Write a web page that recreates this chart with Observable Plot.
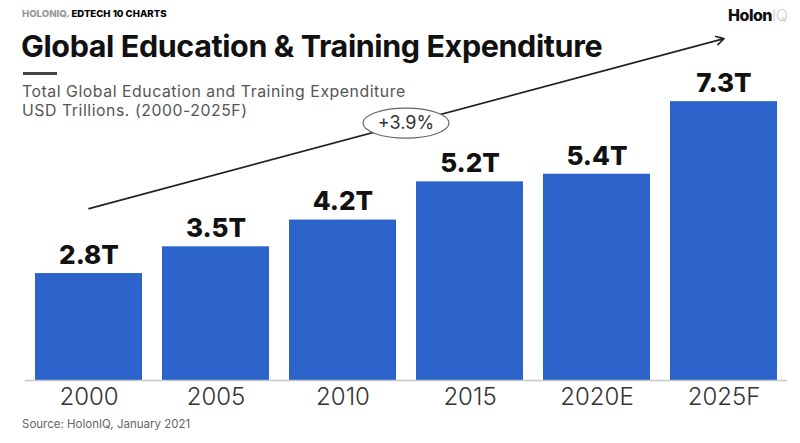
<!DOCTYPE html>
<html>
<head>
<meta charset="utf-8">
<script src="https://cdn.jsdelivr.net/npm/d3@7"></script>
<script src="https://cdn.jsdelivr.net/npm/@observablehq/plot@0.6"></script>
<style>
  body { margin: 0; background: #fff; font-family: Inter, "Open Sans", sans-serif; }
  #wrap { position: relative; width: 800px; height: 443px; overflow: hidden; }
  #chart { position: absolute; left: 0; top: 0; }
  .abs { position: absolute; white-space: nowrap; }
  #kicker { left: 22px; top: 8px; font-size: 9.6px; font-weight: 800; letter-spacing: 0px; }
  #kicker .g { color: #999; }
  #logo { left: 728px; top: 5px; font-size: 16px; font-weight: 800; color: #111; letter-spacing: -0.5px; }
  #logo .iq { color: #ccc; font-weight: 300; }
  #title { left: 21px; top: 27px; font-size: 30.5px; font-weight: 700; color: #111; letter-spacing: -0.4px; }
  #rule { left: 23px; top: 72px; width: 34px; height: 3px; background: #444; }
  #sub { left: 22px; top: 82px; font-size: 15.8px; color: #555; line-height: 19px; font-weight: 400; letter-spacing: 0.55px; }
  #source { left: 22px; top: 417px; font-size: 11.5px; color: #666; }
</style>
</head>
<body>
<div id="wrap">
  <div id="chart"></div>
  <div id="kicker" class="abs"><span class="g">HOLONIQ.</span> EDTECH 10 CHARTS</div>
  <div id="logo" class="abs">Holon<span class="iq">IQ</span></div>
  <div id="title" class="abs">Global Education &amp; Training Expenditure</div>
  <div id="rule" class="abs"></div>
  <div id="sub" class="abs">Total Global Education and Training Expenditure<br>USD Trillions. (2000-2025F)</div>
  <div id="source" class="abs">Source: HolonIQ, January 2021</div>
</div>
<script>
const years = ["2000", "2005", "2010", "2015", "2020E", "2025F"];
const values = [2.8, 3.5, 4.2, 5.2, 5.4, 7.3];
const labels = ["2.8T", "3.5T", "4.2T", "5.2T", "5.4T", "7.3T"];
const cagrLabel = "+3.9%";
// trend arrow endpoints (category, value in USD T)
const arrowFrom = ["2000", 4.5];
const arrowTo = ["2025F", 8.95];

const data = years.map((y, i) => ({year: y, value: values[i], label: labels[i]}));

const chart = Plot.plot({
  width: 800,
  height: 443,
  marginTop: 100,
  marginBottom: 63,
  marginLeft: 25,
  marginRight: 13,
  style: {fontFamily: "Inter, 'Open Sans', sans-serif", background: "transparent", overflow: "visible"},
  x: {domain: years, paddingInner: 0.16, paddingOuter: 0.08, label: null},
  y: {domain: [0, 7.33], axis: null},
  marks: [
    Plot.barY(data, {x: "year", y: "value", fill: "#2b63cb"}),
    Plot.ruleY([0], {stroke: "#c8c8c8", strokeWidth: 1.5}),
    Plot.text(data, {x: "year", y: "value", text: "label", dy: -18, fontSize: 26, fontWeight: 800, fill: "#111", letterSpacing: -0.5}),
    Plot.arrow([{x1: arrowFrom[0], y1: arrowFrom[1], x2: arrowTo[0], y2: arrowTo[1]}], {
      x1: "x1", y1: "y1", x2: "x2", y2: "y2", stroke: "#222", strokeWidth: 1.6, headLength: 8, clip: false
    }),
    Plot.axisX({tickSize: 0, tickPadding: 7, fontSize: 24, fill: "#333", fontWeight: 300})
  ]
});
document.getElementById("chart").appendChild(chart);

// CAGR ellipse label placed on the trend arrow between 2010 and 2015
const xs = chart.scale("x"), ys = chart.scale("y");
const bw = xs.bandwidth;
const ax1 = xs.apply(arrowFrom[0]) + bw / 2, ay1 = ys.apply(arrowFrom[1]);
const ax2 = xs.apply(arrowTo[0]) + bw / 2, ay2 = ys.apply(arrowTo[1]);
const cx = (xs.apply("2010") + xs.apply("2015")) / 2 + bw / 2;
const cy = ay1 + (cx - ax1) * (ay2 - ay1) / (ax2 - ax1);
const g = d3.select(chart).append("g");
g.append("ellipse").attr("cx", cx).attr("cy", cy).attr("rx", 43).attr("ry", 15)
  .attr("fill", "#fff").attr("stroke", "#666").attr("stroke-width", 1.2);
g.append("text").attr("x", cx).attr("y", cy).attr("text-anchor", "middle").attr("dy", "0.35em")
  .attr("font-size", 18).attr("fill", "#333").attr("font-family", "Inter, sans-serif").text(cagrLabel);
</script>
</body>
</html>
